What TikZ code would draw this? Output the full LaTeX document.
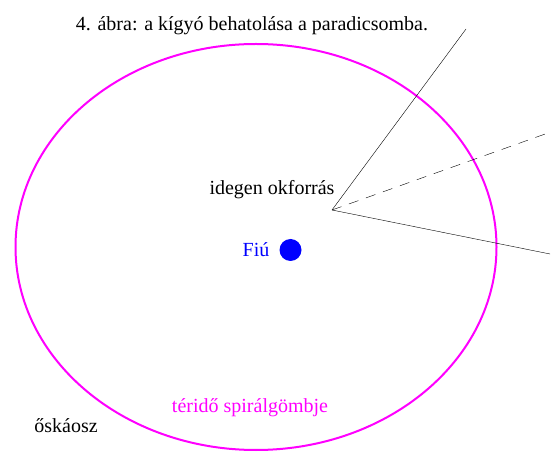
\documentclass[tikz,border=0pt]{standalone}
\usepackage{fontspec}
\setmainfont{Liberation Serif}
\newfontfamily\serifface{Liberation Serif}
\definecolor{lila}{RGB}{255,0,255}
\definecolor{kek}{RGB}{0,0,255}
\begin{document}
\begin{tikzpicture}[x=1pt,y=-1pt,
  label/.style={anchor=base,inner sep=0pt,font=\serifface\fontsize{20}{22}\selectfont}]

\useasboundingbox (0,0) rectangle (560,470);

% Title
\node[label] (title) at (252,31) {4. ábra: a kígyó behatolása a paradicsomba.};

% Spiral sphere of space-time
\draw[lila,line width=2pt] (256,247) ellipse [x radius=240.5,y radius=203];
\node[label,text=lila] (sphere) at (250,413) {téridő spirálgömbje};

% Outer chaos
\node[label] (chaos) at (66,432) {őskáosz};

% Foreign cause and its rays
\coordinate (src) at (332,210);
\coordinate (r1) at (466,29);
\coordinate (r2) at (548,133);
\coordinate (r3) at (550,254);
\node[label] (source) at (272,195) {idegen okforrás};
\draw (src) -- (r1);
\draw[dashed,dash pattern=on 10pt off 8pt] (src) -- (r2);
\draw (src) -- (r3);

% Son
\node[label,text=kek] (fiu) at (256,257) {Fiú};
\node[circle,fill=kek,minimum size=22pt,inner sep=0pt] (dot) at (290.5,250) {};

\end{tikzpicture}
\end{document}
